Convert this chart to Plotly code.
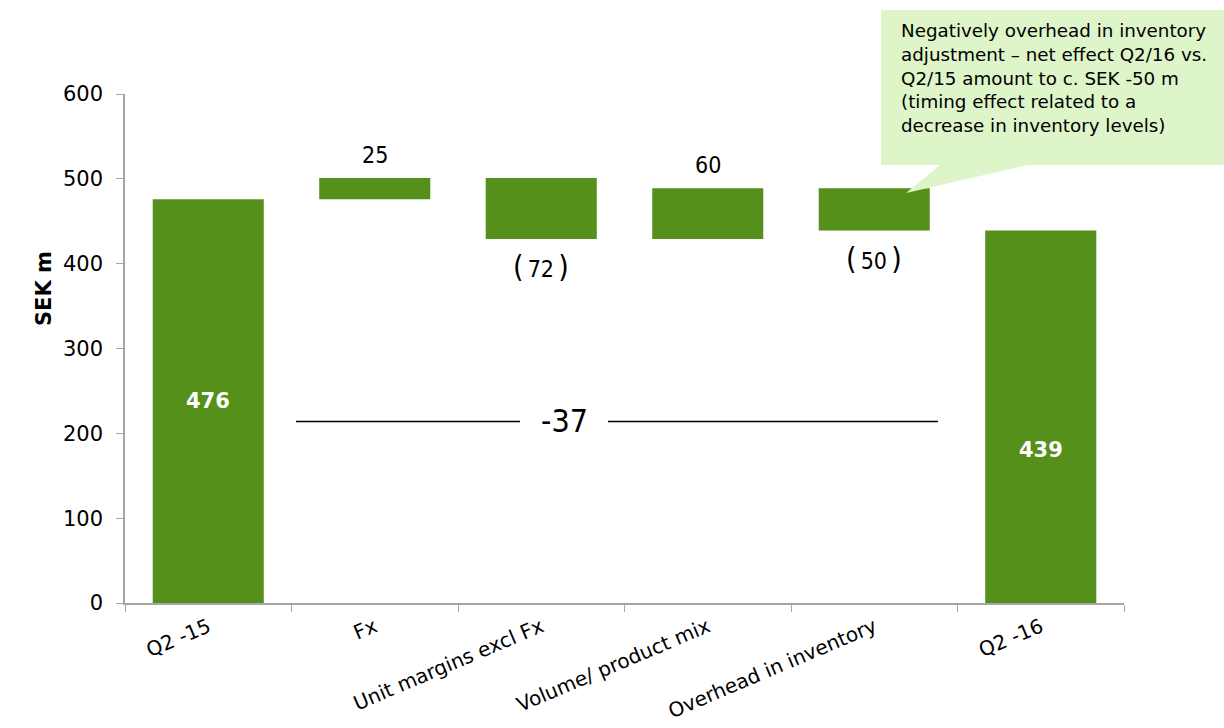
import plotly.graph_objects as go

# ---- data ----
categories = ["Q2 -15", "Fx", "Unit margins excl Fx", "Volume/ product mix",
              "Overhead in inventory", "Q2 -16"]
values = [476, 25, -72, 60, -50, 439]
measures = ["absolute", "relative", "relative", "relative", "relative", "total"]
y_ticks = [0, 100, 200, 300, 400, 500, 600]
callout_text = ("Negatively overhead in inventory<br>adjustment – net effect Q2/16 vs.<br>"
                "Q2/15 amount to c. SEK -50 m<br>(timing effect related to a<br>"
                "decrease in inventory levels)")

GREEN = "#55901A"
GRID_GRAY = "#A6A6A6"
NARROW = "DejaVu Sans Condensed, Liberation Sans Narrow, DejaVu Sans"
BASE = "DejaVu Sans, Verdana, sans-serif"

# plot area in pixels
L, R, T, B = 125, 1124, 94, 603
W, H = 1224, 728


def px(x):
    return (x - L) / (R - L)


def py(y):
    return (B - y) / (B - T)


fig = go.Figure()
fig.add_trace(go.Waterfall(
    x=categories, y=values, measure=measures,
    increasing=dict(marker=dict(color=GREEN)),
    decreasing=dict(marker=dict(color=GREEN)),
    totals=dict(marker=dict(color=GREEN)),
    connector=dict(visible=False),
    hoverinfo="skip", textinfo="none",
))

annotations = []
running = 0
for i, (cat, v, m) in enumerate(zip(categories, values, measures)):
    if m == "absolute":
        running = v
        annotations.append(dict(x=cat, y=v * 0.5, text=f"<b>{v}</b>", showarrow=False,
                                font=dict(family=BASE, size=21, color="white")))
    elif m == "total":
        annotations.append(dict(x=cat, y=running * 0.41, text=f"<b>{running}</b>", showarrow=False,
                                font=dict(family=BASE, size=21, color="white")))
    else:
        running = running + v
        if v >= 0:
            annotations.append(dict(x=cat, y=running, yanchor="bottom", yshift=8,
                                    text=f"{v}", showarrow=False,
                                    font=dict(family=NARROW, size=23, color="black")))
        else:
            annotations.append(dict(
                x=cat, y=running, yanchor="top", yshift=-8,
                text=(f"<span style='font-size:30px'>(</span>\u2009{abs(v)}\u2009"
                      f"<span style='font-size:30px'>)</span>"),
                showarrow=False, font=dict(family=NARROW, size=23, color="black")))

net = running - values[0]

# net change line with label
line_y = 214
shapes = [
    dict(type="line", xref="paper", yref="y", x0=px(296), x1=px(520), y0=line_y, y1=line_y,
         line=dict(color="black", width=1.5)),
    dict(type="line", xref="paper", yref="y", x0=px(608), x1=px(938), y0=line_y, y1=line_y,
         line=dict(color="black", width=1.5)),
]
annotations.append(dict(xref="paper", yref="y", x=px(564), y=line_y, text=f"{net}",
                        showarrow=False, font=dict(family=NARROW, size=32, color="black")))

# callout box with pointer
pts = [(881, 10), (1230, 10), (1230, 165), (1028, 165), (906, 193), (940, 165), (881, 165)]
path = "M " + " L ".join(f"{px(x):.5f},{py(y):.5f}" for x, y in pts) + " Z"
shapes.append(dict(type="path", xref="paper", yref="paper", path=path,
                   fillcolor="#DDF5C8", line=dict(width=0), layer="above"))
annotations.append(dict(xref="paper", yref="paper", x=px(899), y=py(18),
                        xanchor="left", yanchor="top", align="left",
                        text=callout_text, showarrow=False,
                        font=dict(family=BASE, size=18.3, color="black")))

# y-axis title
annotations.append(dict(xref="paper", yref="paper", x=px(30), y=py(289), textangle=-90,
                        text="<b>SEK m</b>", showarrow=False,
                        font=dict(family=BASE, size=21, color="black")))

fig.update_layout(
    width=W, height=H,
    margin=dict(l=L, r=W - R, t=T, b=H - B, pad=0),
    plot_bgcolor="white", paper_bgcolor="white",
    showlegend=False,
    waterfallgap=0.333,
    shapes=shapes, annotations=annotations,
    xaxis=dict(
        automargin=False,
        showline=True, linecolor=GRID_GRAY, linewidth=1.5,
        ticks="outside", tickson="boundaries", ticklen=7, tickcolor=GRID_GRAY,
        tickangle=-23, tickfont=dict(family=BASE, size=20, color="black"),
        ticklabelstandoff=3,
        showgrid=False, zeroline=False,
    ),
    yaxis=dict(
        automargin=False,
        range=[0, 600], tickvals=y_ticks,
        showline=True, linecolor=GRID_GRAY, linewidth=1.5,
        ticks="outside", ticklen=7, tickcolor=GRID_GRAY,
        tickfont=dict(family=BASE, size=21, color="black"),
        ticklabelstandoff=9,
        showgrid=False, zeroline=False,
    ),
)

fig.write_html("out.html")
